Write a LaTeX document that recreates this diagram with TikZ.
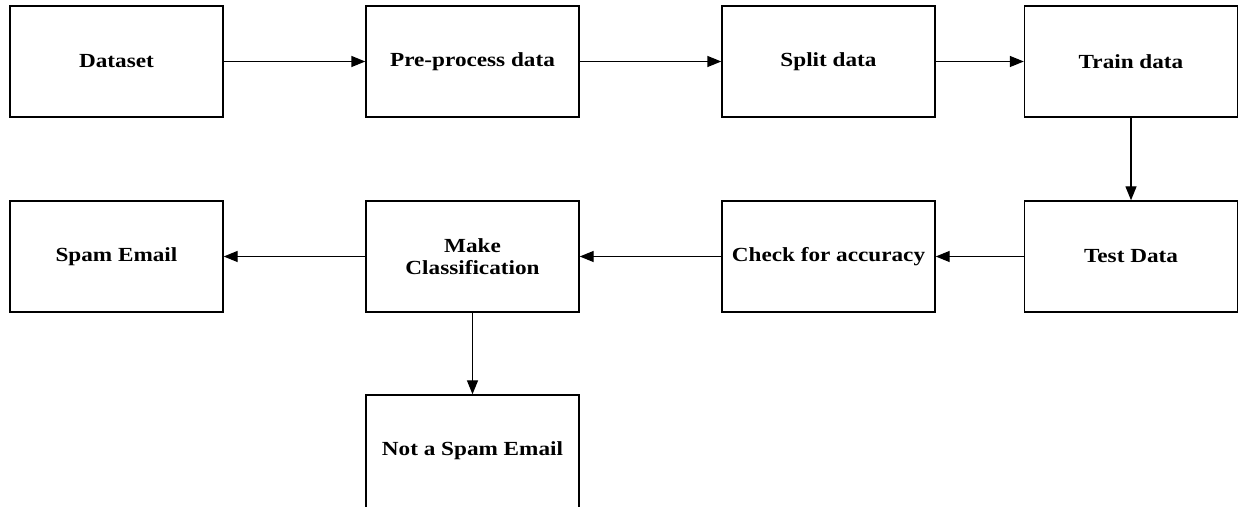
\documentclass[tikz,border=0pt]{standalone}
\usepackage{fontspec}
\setmainfont{Liberation Serif}[FakeStretch=1.16]
\usetikzlibrary{arrows.meta}
\begin{document}
\begin{tikzpicture}[x=1pt,y=1pt,
  stepbox/.style={draw=black,line width=1.4pt,fill=white,minimum width=213pt,
    minimum height=111pt,inner sep=2pt,align=center,
    font=\fontsize{20}{22}\selectfont\bfseries},
  flow/.style={line width=1.4pt,-{Triangle[length=14pt,width=11pt]}}]
\useasboundingbox (0,0) rectangle (1239,506);
\clip (0,0) rectangle (1239,506);
% top row
\node[stepbox] (data)  at (116.5,444.5) {Dataset};
\node[stepbox] (prep)  at (472.5,444.5) {Pre-process data};
\node[stepbox] (split) at (828.5,444.5) {Split data};
\node[stepbox] (train) at (1131,444.5) {Train data};
% second row
\node[stepbox] (spam)  at (116.5,249.5) {Spam Email};
\node[stepbox] (make)  at (472.5,249.5) {Make\\Classification};
\node[stepbox] (check) at (828.5,249.5) {Check for accuracy};
\node[stepbox] (test)  at (1131,249.5) {Test Data};
% bottom box runs off the lower edge
\node[stepbox,minimum height=115pt] (notspam) at (472.5,53.5) {};
\node[font=\fontsize{20}{22}\selectfont\bfseries] (notspamtext) at (472.5,55.5) {Not a Spam Email};
% connectors
\draw[flow] (data) -- (prep);
\draw[flow] (prep) -- (split);
\draw[flow] (split) -- (train);
\draw[flow] (train) -- (test);
\draw[flow] (test) -- (check);
\draw[flow] (check) -- (make);
\draw[flow] (make) -- (spam);
\draw[flow] (make) -- (notspam);
\end{tikzpicture}
\end{document}
